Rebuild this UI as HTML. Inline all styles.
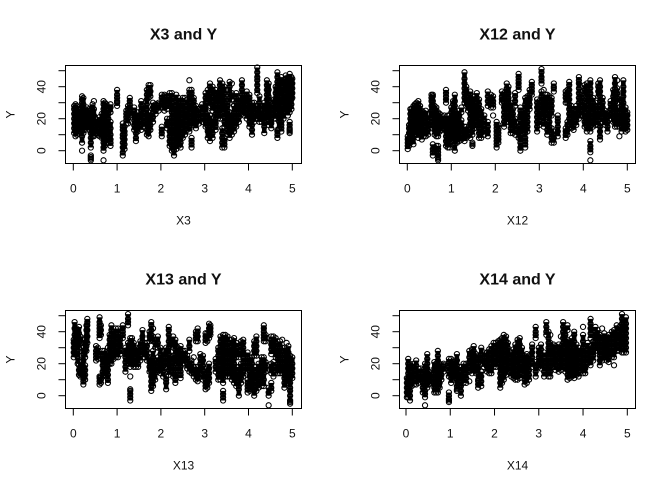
<!DOCTYPE html>
<html>
<head>
<meta charset="utf-8">
<title>X variables and Y</title>
<style>
html,body{margin:0;padding:0;background:#fff;width:669px;height:490px;overflow:hidden}
svg{display:block}
text{font-family:"Liberation Sans",Arial,sans-serif;fill:#111}
</style>
</head>
<body>
<svg id="chart" xmlns="http://www.w3.org/2000/svg" width="669" height="490" viewBox="0 0 669 490"></svg>
<script>
var xTicks = [0, 1, 2, 3, 4, 5];
var yTicks = [0, 10, 20, 30, 40, 50];
var yTickLabels = ['0', '', '20', '', '40', ''];

var x3Columns = [0.02,0.05,0.08,0.12,0.16,0.2,0.23,0.27,0.31,0.36,0.4,0.44,0.47,0.51,0.55,0.6,0.65,0.69,0.72,0.76,0.8,0.85,1,1.13,1.17,1.21,1.25,1.29,1.39,1.43,1.47,1.55,1.6,1.68,1.72,1.76,1.82,1.88,1.95,2.02,2.08,2.14,2.2,2.25,2.3,2.35,2.4,2.45,2.5,2.55,2.6,2.65,2.7,2.75,2.8,2.87,2.94,3.02,3.07,3.12,3.18,3.25,3.3,3.35,3.4,3.45,3.52,3.57,3.62,3.67,3.72,3.78,3.85,3.9,3.96,4.02,4.08,4.13,4.2,4.25,4.3,4.36,4.42,4.46,4.52,4.58,4.62,4.66,4.7,4.75,4.8,4.85,4.9,4.94,4.98,5];
var x3Y = [
[11,14,17,20,23,26,28],[9,12,15,18,21,24,27,29],[10,13,16,19,22,25,28],[12,15,18,21,24],[13,16,19,22,26],[0,5,9,12,15,18,21,24,27,30,32,34],[11,14,17,20,23,26,29,33],[13,16,19,22,26],[15,18,21,24,27],[13,16,19,23,26],[-6,-5,-4,-3,2,5,8,11,14,17,20,23,25],[9,12,15,18,21,24,27,29],[9,12,15,18,22,26,31],[11,13,15,17,20],[10,12,14,16,18],[9,11,14,17,21],[8,11,14,17,20,23],[-6,0,2,5,8,11,14,17,20,23,26,29,31],[3,6,9,12,15,18,21,24,27,30],[5,8,11,14,17,20,23,26,29],[8,11,14,17,20,23,25],[3,5,7,10,14,18,24,27,29],
[28,30,31,33,35,38],[-3,-1,2,5,8,10,13,15,17],[1,4,7,10,12,15],[17,19,21,23,25],[17,20,22,24,26,28],[22,25,27,29,31,33],[13,16,19,22,25,27],[6,8,11,14,17,20,22],[12,15,18,21,24],[13,16,19,22,25,28,31],[15,18,21,24,28],[10,13,16,19,22,26,29,32,35,38],[9,12,15,18,21,24,33,36,39,41],[13,16,19,22,34,37,41],[18,21,24,27,30],[23,25,27,29],[25,27,29,30],[9,11,13,15,27,30,33,35],[25,28,31,34,35],[14,17,20,26,29,32,34],[3,6,9,12,15,18,20,28,31,34,36],[0,3,6,9,12,15,18,21,24,27,30,33,36],[-3,0,3,6,9,12,15,18,21,24,28,33],[1,4,7,10,13,16,19,22,25,28,31,35],[3,6,9,12,15,18,21,24,27,30,33],[2,5,8,11,14,17,20,23,26,30],[8,11,14,17,20,23,26,30,33],[10,13,16,19,22,25,28,33],[13,16,19,22,25,28,32],[12,15,18,21,24,27,30,33,36,38,44],[2,4,6,8,15,18,21,24,27,30,33,36,38],[16,19,22,25,28,31,33],[14,17,20,23,26,28],[17,20,23,26],[18,21,24,27,29],[15,18,21,24,27,30,33,36],[8,12,15,18,21,24,30,34,38],[6,9,12,15,18,22,28,32,36,40,42],[8,11,14,17,20,25,28,31,34,38,40],[13,15,17,20,23,26,29,32,35,38],[20,23,26,29,32,36],[20,23,26,29,32,35,38,41,44],[2,5,8,11,14,25,28,31,34,37,40,42],[2,4,6,8,15,18,21,24,27,30,33,36,40],[10,13,16,19,22,25,28,30],[8,11,14,17,20,24,30,33,36,40,43],[10,13,16,19,22,32,36,42],[12,15,18,21,24,28],[15,18,21,24,27,30,33,36],[18,21,24,27,30,33],[23,26,29,32,35,38,41,44],[22,25,28,31,34],[20,23,26,29,32,35,37],[15,18,21,24,27,30,33,35],[10,13,16,19,22,25,28,30],[18,21,24,27,30],[20,23,26,28,36,38,41,44,46,49,52],[18,21,24,27,30,34],[18,20,22,25],[11,15,18,21,24,27,30],[20,23,26,29,32,35,38,41,44],[16,19,22,25,28,31,34,38,42],[14,17,20,23,26,29],[20,23,26,29,32],[20,24,28,32,36,40],[8,10,12,13,25,28,31,34,37,40,43,46,49],[14,18,22,26,30,34,38,42],[12,14,16,18,22,25,28,31,34,37,40,43,46],[20,24,28,32,36,40,44],[24,27,30,33,36,39,42,45,47],[22,25,28,31,34,37,40,43,46],[11,12,13,14,16,18,24,27,30,33,36,39,42,45,48],[26,29,32,35,38,41,44,46],[33,36,39,42,45]
];

var x12Columns = [0.01,0.04,0.07,0.1,0.14,0.17,0.21,0.25,0.29,0.33,0.37,0.42,0.47,0.55,0.58,0.62,0.66,0.7,0.74,0.78,0.84,0.88,0.92,0.96,1,1.04,1.08,1.13,1.18,1.23,1.3,1.34,1.38,1.43,1.48,1.53,1.58,1.63,1.68,1.75,1.83,1.9,1.95,2.03,2.07,2.15,2.2,2.26,2.3,2.35,2.4,2.45,2.53,2.57,2.63,2.68,2.73,2.78,2.83,2.95,3,3.05,3.1,3.14,3.18,3.23,3.28,3.33,3.42,3.6,3.64,3.68,3.73,3.78,3.84,3.9,3.96,4.03,4.08,4.12,4.16,4.22,4.28,4.34,4.38,4.44,4.5,4.55,4.62,4.68,4.72,4.77,4.82,4.87,4.91,4.96,5];
var x12Y = [
[1,3,5,7,9],[3,5,8,11,14,16],[5,8,11,14,17,20,23,26],[8,11,14,17,20,23,26],[4,8,11,14,17,20,23,26,28],[10,13,16,19,22,25,28,29],[10,13,16,19,22,25,28,30],[8,11,14,17,20,23,26,29,31],[10,13,16,19,22,25,28],[7,10,13,16,19,22,25],[9,12,15,18,21,24],[9,12,15,18,21,25],[10,13,16,19,22],[14,16,18,20,22,25,28,31,33,35],[-3,-1,1,4,22,25,28,31,34,35],[0,2,10,13,16,19,22,25,28],[0,3,9,12,15,18,21,24,27],[-6,-5,-3,-1,1,3,9,12,15,18,21,24],[12,15,18,21,23],[13,16,19,22],[14,17,20,22],[3,6,9,12,15,18,20,30,32,34,36,38],[2,5,8,11,14,17,20,22],[2,5,8,11,14,17,20,22],[6,9,12,15,18,21,24,27],[8,11,14,17,20,23,26,29,31],[0,4,7,10,13,16,19,22,25,28,31,35],[5,8,11,14,17,20,22],[6,9,12,15,18,22,25],[7,10,13,16,19,24,27],[6,9,12,15,30,33,36,39,42,45,49],[8,12,15,28,31,34,37,40],[9,14,25,28,31,34],[8,11,14,17,20,23,26,29,32,35,37],[3,4,5,10,13,16,19,22,25,28,31,34],[14,18,22,26,30,34],[18,21,24,27,30,33,36],[8,11,14,17,20,23,26,29,32],[8,11,14,17,20,23,26],[10,13,16,19,22],[9,12,15,18,28,31,34,37],[27,29,31,33,35],[22,27,29,31,34],[2,4,6,8,10,12,14,16,18],[5,7,9,11,13,16],[30,32,34,37],[15,18,21,24,27,30,33,36],[18,21,24,27,30,33,36,39,42],[18,21,24,27,30,33,36,40],[11,14,17,20,23,26,30],[11,14,17,20,23,26],[10,13,16,20,28,31,34,36],[8,11,15,38,40,42,44,46,48],[0,2,5,7,10,13,16,19,22,25,27],[12,15,18,21,24],[2,4,6,8,11,14,17,20,23,26,29,33],[12,15,18,21,24,27,30,34],[26,29,32,35,38],[35,37,39,41,43],[12,15,18,21,24,27,30,32],[16,19,22,25,28,31],[22,25,28,31,34,37,42,44,46,49,51],[15,18,21,24,27,30,33,38],[20,23,26,29,32,35],[10,13,16,18,25,28,31,35],[12,15,18,22,25,28,31,34],[5,8,11,14,22,25,28,31,33],[5,8,10,12,37,39,40,42],[9,12,15,18,20,22],[8,10,12,14,30,33,35,37],[10,13,16,18,30,34,38],[17,20,23,26,29,32,35,38,41,43],[14,17,20,23,26,28],[13,16,19,22,25],[16,19,22,25,28],[20,23,26,30,33,36,39,42,44,46],[22,25,28,31,33,35],[15,18,21,24,27,30,35,38,41],[12,15,18,21,24,30,33,36,39,42],[14,17,20,23,26,29,32],[-6,-1,1,3,6,12,15,18,21,24,27,30,33,36,39,42,44],[15,18,21,24,27,30,33],[16,19,22,25,28,30],[16,19,22,25,34,37,40,42],[7,9,12,15,17,22,25,28,31,34,37,40,44],[18,21,24,27,30,33],[16,19,22,25],[12,15,18,21,24],[20,23,26,29,31],[18,21,24,27,30,34,38],[15,18,21,24,27,30,33,36,39,42,46],[15,18,21,24,30,33,36,39,44],[9,15,18,21,24,27],[12,15,18,21,24,28,31,34],[14,17,20,23,26,30,34,37,40,44],[12,15,18,21,24,27],[13,16,19,22,24]
];

var x13Columns = [0.01,0.03,0.07,0.1,0.13,0.16,0.19,0.23,0.27,0.3,0.32,0.52,0.56,0.6,0.63,0.67,0.71,0.75,0.79,0.83,0.87,0.92,0.97,1.02,1.07,1.13,1.19,1.25,1.3,1.34,1.38,1.43,1.48,1.53,1.58,1.63,1.68,1.74,1.78,1.82,1.87,1.93,1.99,2.05,2.12,2.18,2.23,2.28,2.33,2.39,2.45,2.5,2.55,2.6,2.65,2.7,2.75,2.8,2.84,2.9,2.96,3.02,3.06,3.1,3.13,3.25,3.31,3.36,3.42,3.47,3.52,3.57,3.62,3.67,3.72,3.78,3.83,3.88,3.98,4.03,4.08,4.13,4.18,4.23,4.3,4.35,4.39,4.46,4.52,4.57,4.62,4.67,4.72,4.77,4.82,4.87,4.91,4.95,5];
var x13Y = [
[24,27,30,33,35],[26,30,34,38,42,46],[30,33,36,39,42],[20,24,28,32,36,40],[13,16,19,30,33,36,39,43],[12,15,18,21,33,37],[13,16,19,25,30],[7,9,11,14,18,22,26,30],[10,13,16,19,24,28,32,35],[28,31,34,37,41,44],[33,37,41,44,46,48],[22,24,26,28,31],[23,25,27,30],[7,9,11,12,36,38,40,42,44,46,49],[8,10,12,38,41,44],[12,15,19,22,25,28],[13,16,19,22,25,28],[12,15,18,21,24,27],[8,10,13,16,19,22,25,30],[20,23,26,29,32,35,38],[20,23,26,29,32,35,38,41,44],[23,26,29,32,35,38,40],[24,27,30,33,36,39,42],[24,27,30,33,36,39,42],[26,29,32,35,38],[36,38,40,42,44],[15,18,21,24,27,30],[20,23,26,29,33,44,46,48,51],[-3,-1,1,3,4,12,18,21,24,27,30,33,36],[20,23,26,29,32,36],[18,21,24,27,30,33],[18,21,24,27,30],[18,20,23,26,29],[22,25,28,31,34],[28,31,34,37,41],[24,27,30,33],[22,25,28,31,33],[15,18,21,24,34,37,40],[3,6,9,12,15,18,21,24,35,38,41,44,46],[6,9,12,15,18,21,24,28,34,37,42],[10,14,18,22,30,33,35],[15,18,21,24,30,33,37],[14,17,20,23,26,30],[12,15,18,21,24,27],[4,8,10,12,18,21,24,27,30],[13,16,19,22,26,30,34,38,41,43],[15,18,21,24,32,35],[12,15,18,21,25,30,33,37],[8,10,12,15,20,23,26,29,32,35],[15,18,21,24,27,30],[11,13,15,18,22,25,28,31],[20,23,26,28],[20,23,26,28],[17,20,23,25],[15,18,21,28,31,35],[14,17,20,22],[12,14,16,18,24],[10,13,16,18,34,36,38,40],[9,12,15,18,34,37,40,42],[14,17,20,23,26],[10,13,16,19,22,25],[4,6,8,10,12,14,33,35,37,39],[5,8,11,14,17,34,37,39],[8,11,14,17,20,36,38,40,42,45],[38,40,42,44],[15,18,21,23],[10,13,16,19,22,25,28,30],[10,13,16,19,22,25,28,31,34,37],[-3,-1,1,3,8,11,14,17,20,23,26,29,32,35,38],[12,15,18,21,24,27,30,33,36,38],[12,15,18,21,24,27,30,33,37],[12,15,18,21,24,27,30],[10,13,16,19,22,25,28,31,35],[8,11,14,17,20,23,26,29,32,36],[6,9,12,15,18,24,27,30,33],[0,4,6,9,12,15,18,24,28],[8,11,14,17,20,28,31,34],[12,15,18,21,24,27,30,33,35],[2,4,6,8,10,15,18,21,24,27],[3,6,9,12,15,18,21,24],[4,7,10,13,16,20,24],[0,3,6,9,12,15,18,25,28,31,34],[3,6,9,12,15,25,28,31,34,37],[5,8,11,14,17,20],[6,9,12,15,18,21,24],[6,10,14,18,22,24,34,36,38,40,42,44],[15,18,21,34,38],[-6,0,2,5],[3,5,8,14,17,20,26,29,32,35,37],[12,15,18,21,28,31,34,37],[15,24,27,30,33,36],[14,17,20,23,26,29],[14,17,20,23,26,30,34],[14,17,20,25,30,35],[5,8,11,14,17,20,23,26,30],[8,11,14,17,20,24,28,33],[8,11,14,17,20,23,27,31],[-5,-4,-3,0,3,5,8,11,14,17,20,23,25],[11,14,17,20,24]
];

var x14Columns = [0.02,0.05,0.09,0.13,0.18,0.23,0.28,0.33,0.38,0.43,0.48,0.52,0.57,0.64,0.68,0.72,0.76,0.8,0.85,0.97,1.02,1.07,1.11,1.15,1.2,1.24,1.3,1.36,1.43,1.49,1.53,1.58,1.63,1.7,1.76,1.83,1.88,1.93,1.98,2.03,2.08,2.13,2.17,2.21,2.26,2.3,2.38,2.43,2.47,2.52,2.57,2.62,2.68,2.73,2.78,2.85,2.93,3,3.05,3.12,3.17,3.22,3.26,3.33,3.38,3.45,3.5,3.55,3.6,3.65,3.7,3.75,3.8,3.85,3.9,3.95,4,4.05,4.1,4.17,4.23,4.28,4.33,4.38,4.43,4.48,4.53,4.58,4.65,4.7,4.76,4.82,4.88,4.92,4.97];
var x14Y = [
[-1,2,5,8,11],[-1,2,5,8,11,14,17,20,23],[-3,0,3,6,9,12,15,18,20],[6,9,12,15,18],[7,10,13,16,18,20],[7,10,13,16,19,22],[8,11,14,17],[10,12,14,17],[2,5,8,11,14,16],[-6,-1,1,3,6,8,10,13,16,20],[5,8,11,14,17,20,23,26],[7,10,13,15],[8,11,14],[2,5,8,11,14,17,21],[2,5,8,11,14,17,20],[2,5,8,11,14,18,22,25,28],[5,8,11,14,17,20],[10,13,16,19],[15,17,19,20],[-4,-3,-2,0,2,12,15,18,21,23],[8,11,14,17,20,23],[10,13,16,19,22],[11,14,17,20],[3,4,6,10,13,16,19,22,26],[6,9,12,15,18],[0,3,6,9,12,15],[8,11,14,17,20],[8,11,14,17,20],[9,15,18,21,24,28],[14,17,20,23,26,29],[16,19,22,25,28,31],[14,17,20,23,26],[5,7,9,10,14,17,20,23,25],[6,9,12,15,20,23,26,30],[18,21,24,27],[15,18,21,24,27],[14,17,20,23,26,29],[14,17,20,23,26,29,31],[18,21,24,27,30,33],[18,21,24,27,30,33],[20,23,26,29,32,34],[5,8,11,14,17,20,23,26,29,32,35],[8,11,14,17,20,23,26,29,32,36],[10,13,16,19,22,25,28,31,34,38],[13,16,19,22,25,28,31,34,37],[15,18,21,24,27,30,33],[12,15,18,21,24,27],[11,14,17,20,23,26,29],[10,13,16,19,22,25,28,32],[10,13,16,19,22,25,28,31,35],[11,14,17,20,23,26,29,32,36],[14,17,20,23,26,30],[7,10,13,16,19,22,25],[8,11,14,17,20,23,26],[10,13,16,19,22,25],[18,21,24,27,30,32],[12,15,18,21,36,38,40,43],[18,21,24,27,30],[17,20,23,26,29,32],[12,15,18,21,24,27],[18,21,38,40,43,46],[12,15,18,21,24,27,30,33,36,40],[12,15,18,21,24,27,30,33,38],[18,21,24,27,30,32],[16,19,22,25,28,31],[15,18,21,24,27,30,32],[16,19,22,25,28,31,37],[18,21,24,27,30,33,36,40,43,46],[15,18,21,24,27,30,34,38,42],[10,13,16,19,22,25,28,31,35,41,44],[11,14,17,20,23,26,30,34],[12,15,18,21,24,27,30,33,36],[11,14,17,20,23,26,30,34,38,40],[13,16,19,22,25,28,32],[12,15,18,21,24,27,30],[15,18,21,24,27],[14,17,20,23,26,30,34,38,43],[14,17,20,23,26,29],[20,23,26,29,33],[19,22,25,28,31,36,39,42,45,48],[22,25,28,31,34],[28,31,34,37,40,43],[28,31,34,37,41],[19,22,25,28,31,34,38],[22,25,28,31,34,37,42],[24,27,30,33,36,39],[22,25,28,31,34,37],[21,24,27,30,33,36,38],[24,27,30,33,36,40],[19,24,27,30,33,36,39,41],[28,31,34,37,40,44],[28,31,34,37,40,43],[27,30,33,36,39,42,45,48,51],[27,30,33,36,39,42,45,47],[27,30,33,36,39,42,45,49]
];

var panelTitles = ['X3 and Y', 'X12 and Y', 'X13 and Y', 'X14 and Y'];
var panelLabels = ['X3', 'X12', 'X13', 'X14'];
var panelColumns = [x3Columns, x12Columns, x13Columns, x14Columns];
var panelValues = [x3Y, x12Y, x13Y, x14Y];

var NS = 'http://www.w3.org/2000/svg';
var svg = document.getElementById('chart');

function make(tag, attrs, parent) {
  var el = document.createElementNS(NS, tag);
  for (var k in attrs) { el.setAttribute(k, attrs[k]); }
  parent.appendChild(el);
  return el;
}

function drawPanel(index, box, x0px, x5px, y0px) {
  var scaleX = function (v) { return x0px + (x5px - x0px) * v / 5; };
  var scaleY = function (v) { return y0px - 1.6 * v; };
  var code = panelLabels[index].toLowerCase();

  var g = make('g', {}, svg);
  
  

  var title = make('text', {x: (box.l + box.r) / 2, y: box.t - 26, 'text-anchor': 'middle', 'font-size': 16, 'font-weight': 'bold'}, g);
  title.textContent = panelTitles[index];
  
  

  var points = make('g', {fill: 'none', stroke: '#000', 'stroke-width': 1.05}, g);
  
  
  panelColumns[index].forEach(function (xv, c) {
    var vals = panelValues[index][c];
    vals.forEach(function (yv, j) {
      var pt = make('circle', {cx: scaleX(xv), cy: scaleY(yv), r: 2.6}, points);
      
      
      if (j > 0 && yv - vals[j - 1] <= 4) {
        var run = make('line', {x1: scaleX(xv), x2: scaleX(xv), y1: scaleY(vals[j - 1]), y2: scaleY(yv), 'stroke-width': 4.6}, points);
        
        
      }
    });
  });

  var frame = make('rect', {x: box.l, y: box.t, width: box.r - box.l, height: box.b - box.t, fill: 'none', stroke: '#000', 'stroke-width': 1}, g);
  
  

  xTicks.forEach(function (t) {
    var tick = make('line', {x1: scaleX(t), x2: scaleX(t), y1: box.b, y2: box.b + 7, stroke: '#000'}, g);
    
    
    var label = make('text', {x: scaleX(t), y: box.b + 29, 'text-anchor': 'middle', 'font-size': 12}, g);
    label.textContent = String(t);
    
    
  });

  yTicks.forEach(function (t, i) {
    var tick = make('line', {x1: box.l - 7, x2: box.l, y1: scaleY(t), y2: scaleY(t), stroke: '#000'}, g);
    
    
    if (yTickLabels[i]) {
      var lx = box.l - 20;
      var label = make('text', {x: lx, y: scaleY(t), 'text-anchor': 'middle', 'font-size': 12, transform: 'rotate(-90 ' + lx + ' ' + scaleY(t) + ')'}, g);
      label.textContent = yTickLabels[i];
      
      
    }
  });

  var xt = make('text', {x: (box.l + box.r) / 2, y: box.b + 61, 'text-anchor': 'middle', 'font-size': 12}, g);
  xt.textContent = panelLabels[index];
  
  

  var yx = box.l - 51;
  var yy = (box.t + box.b) / 2;
  var yt = make('text', {x: yx, y: yy, 'text-anchor': 'middle', 'font-size': 12, transform: 'rotate(-90 ' + yx + ' ' + yy + ')'}, g);
  yt.textContent = 'Y';
  
  
}

drawPanel(0, {l: 65.5, r: 301.5, t: 65.5, b: 163.5}, 73.3, 292.3, 150.7);
drawPanel(1, {l: 399.5, r: 635.5, t: 65.5, b: 163.5}, 407.3, 627.3, 150.7);
drawPanel(2, {l: 65.5, r: 301.5, t: 310.5, b: 408.5}, 73.3, 292.3, 395.7);
drawPanel(3, {l: 399.5, r: 635.5, t: 310.5, b: 408.5}, 406, 627.3, 395.7);
</script>
</body>
</html>
